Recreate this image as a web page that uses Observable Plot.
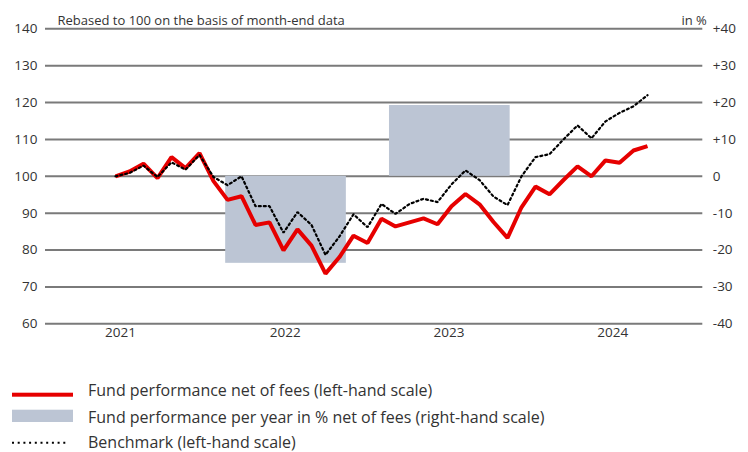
<!DOCTYPE html>
<html>
<head>
<meta charset="utf-8">
<script src="https://cdn.jsdelivr.net/npm/d3@7"></script>
<script src="https://cdn.jsdelivr.net/npm/@observablehq/plot@0.6"></script>
<style>
  html, body { margin: 0; padding: 0; background: #fff; }
  #wrap { width: 748px; height: 452px; position: relative; overflow: hidden; font-family: "Open Sans", sans-serif; }
  #wrap svg { display: block; }
</style>
</head>
<body>
<div id="wrap"></div>
<script>
// ---- data ----
const fund = [100, 101.3, 103.4, 99.5, 105.2, 102.2, 106.3, 98.7, 93.6, 94.6,
              86.8, 87.5, 79.9, 85.6, 81.2, 73.6, 78.1, 83.9, 81.9, 88.5,
              86.4, 87.5, 88.6, 87.0, 91.9, 95.2, 92.4, 87.6, 83.3, 91.6,
              97.2, 95.1, 99.0, 102.7, 100.0, 104.3, 103.7, 107.0, 108.2];
const benchmark = [100, 100.9, 102.9, 99.8, 103.8, 101.8, 105.8, 99.8, 97.6, 100.0,
                   91.9, 91.9, 84.7, 90.3, 86.8, 78.7, 83.7, 89.7, 86.2, 92.5,
                   89.8, 92.5, 93.9, 93.0, 97.8, 101.6, 99.0, 94.5, 92.2, 100.0,
                   105.2, 106.0, 110.0, 113.8, 110.3, 114.9, 117.2, 119.0, 122.0];
const yearLabels = ["2021", "2022", "2023", "2024"];
const yearPos = [0.36, 12.12, 23.82, 35.52];      // x position (month index) of year labels
const barYears = ["2022", "2023"];
const barPerf = [-23.6, 19.2];                     // % per year (right-hand scale)
const yTicks = [60, 70, 80, 90, 100, 110, 120, 130, 140];
const titleText = "Rebased to 100 on the basis of month-end data";
const unitText = "in %";
const legendLabels = [
  "Fund performance net of fees (left-hand scale)",
  "Fund performance per year in % net of fees (right-hand scale)",
  "Benchmark (left-hand scale)"
];

// ---- derived tables ----
const fundData = fund.map((v, i) => ({i, v}));
const benchData = benchmark.map((v, i) => ({i, v}));
const halfBar = 4.31;
const bars = barYears.map((y, k) => {
  const c = yearPos[yearLabels.indexOf(y)];
  return {x1: c - halfBar + 0.06, x2: c + halfBar + 0.06, y1: 100, y2: 100 + barPerf[k]};
});
const pct = v => { const d = v - 100; return d > 0 ? "+" + d : String(d); };

const RED = "#e60000", BAR = "#bcc5d4", GRID = "#7a7a7a", TXT = "#333";

const chart = Plot.plot({
  width: 748,
  height: 345,
  marginTop: 28.3,
  marginBottom: 21.7,
  marginLeft: 45,
  marginRight: 45.7,
  style: {fontFamily: "'Open Sans', sans-serif", fontSize: "13px", color: TXT, background: "white", overflow: "visible"},
  x: {domain: [-5, 41.95], axis: null},
  y: {domain: [60, 140], axis: null},
  marks: [
    Plot.ruleY(yTicks, {stroke: GRID, strokeWidth: 2}),
    Plot.rect(bars, {x1: "x1", x2: "x2", y1: "y1", y2: "y2", fill: BAR}),
    Plot.line(fundData, {x: "i", y: "v", stroke: RED, strokeWidth: 4, strokeLinejoin: "miter", strokeLinecap: "butt"}),
    Plot.line(benchData, {x: "i", y: "v", stroke: "#000", strokeWidth: 2.2, strokeDasharray: "2,3", strokeLinejoin: "miter"}),
    Plot.axisY({anchor: "left", ticks: yTicks, tickSize: 0, tickPadding: 8, label: null, fontSize: 13.5}),
    Plot.axisY({anchor: "right", ticks: yTicks, tickSize: 0, tickPadding: 10, label: null, tickFormat: pct, fontSize: 13.5}),
    Plot.axisX({ticks: yearPos, tickSize: 0, tickPadding: 4, label: null, tickFormat: d => yearLabels[yearPos.indexOf(d)], fontSize: 13.5}),
    Plot.text([titleText], {text: d => d, frameAnchor: "top-left", dx: 12, dy: -13, textAnchor: "start", fontSize: 13, fill: TXT}),
    Plot.text([unitText], {text: d => d, frameAnchor: "top-right", dx: 4, dy: -13, textAnchor: "end", fontSize: 13, fill: TXT})
  ]
});
document.getElementById("wrap").appendChild(chart);

// ---- legend (below the chart) ----
const leg = d3.select("#wrap").append("svg")
  .attr("width", 748).attr("height", 107)
  .style("font-family", "'Open Sans', sans-serif");
const baselines = [51, 77.7, 103];
leg.append("rect").attr("x", 12).attr("y", 47.7).attr("width", 61).attr("height", 4).attr("fill", RED);
leg.append("rect").attr("x", 12).attr("y", 64.7).attr("width", 61).attr("height", 12.3).attr("fill", BAR);
leg.append("line").attr("x1", 12).attr("x2", 69).attr("y1", 97.7).attr("y2", 97.7)
  .attr("stroke", "#000").attr("stroke-width", 2).attr("stroke-dasharray", "2,3.7");
legendLabels.forEach((t, k) => {
  leg.append("text").attr("x", 88).attr("y", baselines[k]).attr("font-size", 16).attr("fill", TXT).text(t);
});
</script>
</body>
</html>
